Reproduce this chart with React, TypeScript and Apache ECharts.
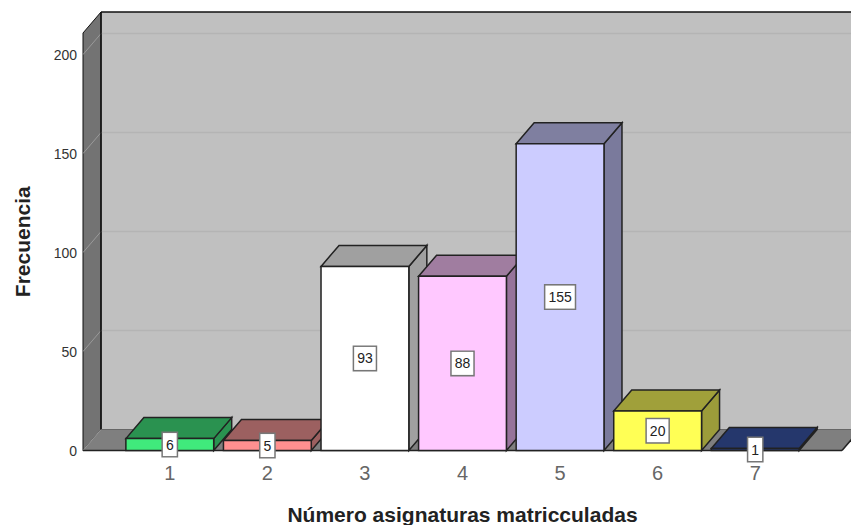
import React, { useEffect, useRef } from "react";
import * as echarts from "echarts";

const categories = ["1", "2", "3", "4", "5", "6", "7"];
const frequencies = [6, 5, 93, 88, 155, 20, 1];
const frontColors = ["#40ea7c", "#ff9090", "#ffffff", "#ffc8ff", "#ccccff", "#ffff55", "#2b3f78"];
const topColors = ["#2a9250", "#9c6060", "#a0a0a0", "#a07da0", "#7f7fa0", "#a0a03a", "#25376c"];
const sideColors = ["#2a9250", "#9c6060", "#a0a0a0", "#96739a", "#7a7a9c", "#9c9c3a", "#25376c"];
const gridTicks = [0, 50, 100, 150, 200];

const DX = 18;
const DY = 21;
const FLOOR_PAD = 38;
const FONT = '"Liberation Sans", Arial, sans-serif';

export default function App() {
  const ref = useRef<HTMLDivElement>(null);
  useEffect(() => {
    document.body.style.margin = "0";
    const chart = echarts.init(ref.current!, undefined, { renderer: "svg" });

    const renderFrame = (_p: any, api: any) => {
      const band = api.size([1, 0])[0];
      const [cx0, y0] = api.coord([0, 0]);
      const [cxN] = api.coord([categories.length - 1, 0]);
      const yTop = api.coord([0, 210.9])[1];
      const l = cx0 - band / 2 - FLOOR_PAD;
      const r = cxN + band / 2 + FLOOR_PAD;
      const children: any[] = [
        { type: "polygon", shape: { points: [[l + DX, yTop - DY], [r + DX, yTop - DY], [r + DX, y0 - DY], [l + DX, y0 - DY]] }, style: { fill: "#c0c0c0", stroke: "none" } },
        { type: "polygon", shape: { points: [[l, yTop], [l + DX, yTop - DY], [l + DX, y0 - DY], [l, y0]] }, style: { fill: "#737373", stroke: "#111", lineWidth: 1 } },
        { type: "polygon", shape: { points: [[l, y0], [l + DX, y0 - DY], [r + DX, y0 - DY], [r, y0]] }, style: { fill: "#7f7f7f", stroke: "none" } },
      ];
      gridTicks.forEach((t) => {
        const y = api.coord([0, t])[1];
        children.push({ type: "line", shape: { x1: l, y1: y, x2: l + DX, y2: y - DY }, style: { stroke: "#9a9a9a", lineWidth: 1 } });
        if (t > 0) children.push({ type: "line", shape: { x1: l + DX, y1: y - DY, x2: r + DX, y2: y - DY }, style: { stroke: "#b4b4b4", lineWidth: 1.5 } });
      });
      children.push(
        { type: "line", shape: { x1: l + DX, y1: yTop - DY, x2: r + DX, y2: yTop - DY }, style: { stroke: "#111", lineWidth: 1.5 } },
        { type: "line", shape: { x1: l + DX, y1: yTop - DY, x2: l + DX, y2: y0 - DY }, style: { stroke: "#111", lineWidth: 1.5 } },
        { type: "line", shape: { x1: l, y1: y0, x2: r, y2: y0 }, style: { stroke: "#222", lineWidth: 1.5 } },
        { type: "line", shape: { x1: r, y1: y0, x2: r + DX, y2: y0 - DY }, style: { stroke: "#222", lineWidth: 1.5 } },
        { type: "line", shape: { x1: l + DX, y1: y0 - DY, x2: r + DX, y2: y0 - DY }, style: { stroke: "#666", lineWidth: 1 } },
      );
      return { type: "group", children };
    };

    const renderBar = (p: any, api: any) => {
      const i = p.dataIndex;
      const v = api.value(1);
      const [cx, yBase] = api.coord([i, 0]);
      const yTop = api.coord([i, v])[1];
      const w = api.size([1, 0])[0] * 0.9;
      const x1 = cx - w / 2;
      const x2 = cx + w / 2;
      const stroke = "#222";
      const lineWidth = 1.5;
      return {
        type: "group",
        children: [
          { type: "polygon", shape: { points: [[x2, yBase], [x2 + DX, yBase - DY], [x2 + DX, yTop - DY], [x2, yTop]] }, style: { fill: sideColors[i], stroke, lineWidth } },
          { type: "polygon", shape: { points: [[x1, yTop], [x1 + DX, yTop - DY], [x2 + DX, yTop - DY], [x2, yTop]] }, style: { fill: topColors[i], stroke, lineWidth } },
          { type: "rect", shape: { x: x1, y: yTop, width: w, height: yBase - yTop }, style: { fill: frontColors[i], stroke, lineWidth } },
        ],
      };
    };

    const renderLabel = (p: any, api: any) => {
      const i = p.dataIndex;
      const v = api.value(1);
      const [cx, cy] = api.coord([i, v / 2]);
      return {
        type: "text",
        x: cx,
        y: cy,
        style: {
          text: String(v),
          align: "center",
          verticalAlign: "middle",
          fill: "#222",
          font: `14px ${FONT}`,
          backgroundColor: "#ffffff",
          borderColor: "#777",
          borderWidth: 1.5,
          padding: [5, 3, 4, 3],
        },
      };
    };

    const data = categories.map((_, i) => [i, frequencies[i]]);
    chart.setOption({
      animation: false,
      backgroundColor: "#ffffff",
      grid: { left: 121, right: 47, top: 33, bottom: 74.5, outerBoundsMode: "none" },
      xAxis: {
        type: "category",
        data: categories,
        axisLine: { show: false },
        axisTick: { show: false },
        axisLabel: { color: "#666", fontSize: 20, fontFamily: FONT, margin: 12 },
        name: "Número asignaturas matricculadas",
        nameLocation: "middle",
        nameGap: 63.5,
        nameTextStyle: { color: "#222", fontSize: 21, fontWeight: "bold", fontFamily: FONT, verticalAlign: "middle" },
      },
      yAxis: {
        type: "value",
        min: 0,
        max: 210.9,
        interval: 50,
        offset: 38,
        axisLine: { show: false },
        axisTick: { show: false },
        splitLine: { show: false },
        axisLabel: { color: "#333", fontSize: 14, fontFamily: FONT, margin: 6, showMaxLabel: false },
        name: "Frecuencia",
        nameLocation: "middle",
        nameGap: 61,
        nameTextStyle: { color: "#222", fontSize: 21, fontWeight: "bold", fontFamily: FONT, verticalAlign: "middle" },
      },
      series: [
        { type: "custom", name: "frame", z: 1, silent: true, data: [[0, 0]], encode: { x: 0, y: 1 }, renderItem: renderFrame },
        { type: "custom", name: "Frecuencia", z: 2, data, encode: { x: 0, y: 1 }, renderItem: renderBar },
        { type: "custom", name: "labels", z: 3, data, encode: { x: 0, y: 1 }, renderItem: renderLabel },
      ],
    });
    return () => chart.dispose();
  }, []);
  return <div ref={ref} style={{ width: 851, height: 525 }} />;
}
